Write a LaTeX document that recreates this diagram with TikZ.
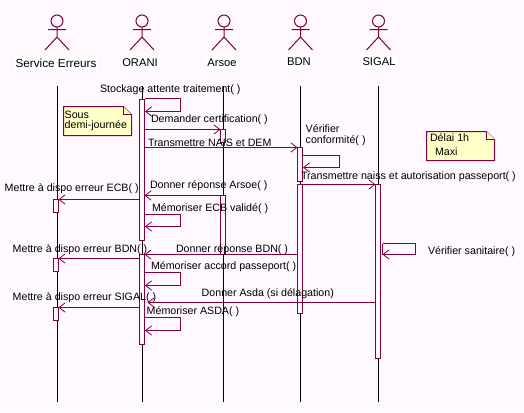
\documentclass[tikz,border=0pt]{standalone}
\usepackage{fontspec}
\setmainfont{Liberation Sans}
\usetikzlibrary{arrows.meta,shapes.misc}
\definecolor{bgc}{RGB}{255,248,255}
\definecolor{umlc}{RGB}{128,0,64}
\definecolor{notec}{RGB}{255,255,200}
\tikzset{
  x=0.75pt,y=-0.75pt,
  lbl/.style={inner sep=0pt,outer sep=0pt,anchor=west,font=\fontsize{8pt}{10pt}\selectfont,text=black},
  actlbl/.style={lbl,anchor=center,font=\fontsize{8.4pt}{10pt}\selectfont,fill=white,inner xsep=1.5pt,inner ysep=2pt},
  lifeline/.style={draw=black,line width=0.75pt},
  actbox/.style={draw=umlc,fill=bgc,line width=0.75pt,rectangle,inner sep=0pt,outer sep=0pt,minimum width=3.75pt,anchor=north},
  msg/.style={draw=umlc,line width=0.75pt,-{Straight Barb[length=4.5pt,width=7pt,line width=0.6pt]}},
  stick/.style={draw=umlc,line width=0.75pt},
  head/.style={circle,draw=umlc,line width=0.75pt,minimum size=9pt,inner sep=0pt,outer sep=0pt},
  notebox/.style={draw=umlc,fill=notec,line width=0.75pt},
}
\newcommand{\actor}[3]{% name, x, label-x
  \node[head] (#1h) at (#2,21) {};
  \coordinate (#1n) at (#2,37);
  \coordinate (#1al) at ({#2-9},29.5);
  \coordinate (#1ar) at ({#2+9},29.5);
  \coordinate (#1ll) at ({#2-12},50);
  \coordinate (#1lr) at ({#2+12},50);
  \draw[stick] (#1h.south) -- (#1n) (#1al) -- (#1ar) (#1ll) -- (#1n) -- (#1lr);
}
\newcommand{\activ}[4]{% name, x, y0, y1
  \node[actbox,minimum height={(#4-#3)*0.75pt}] (#1) at (#2,#3) {};
}
\newcommand{\selfmsg}[5]{% name, xstart, xfar, ytop, ybottom
  \coordinate (#1a) at (#2,#4);
  \coordinate (#1b) at (#3,#4);
  \coordinate (#1c) at (#3,#5);
  \coordinate (#1d) at (#2,#5);
  \draw[msg] (#1a) -- (#1b) -- (#1c) -- (#1d);
}
\newcommand{\note}[5]{% name, x0, y0, x1, y1
  \coordinate (#1a) at (#2,#3);
  \coordinate (#1b) at ({#4-8},#3);
  \coordinate (#1c) at (#4,{#3+8});
  \coordinate (#1d) at (#4,#5);
  \coordinate (#1e) at (#2,#5);
  \coordinate (#1f) at ({#4-8},{#3+8});
  \draw[notebox] (#1a) -- (#1b) -- (#1c) -- (#1d) -- (#1e) -- cycle;
  \draw[notebox] (#1b) -- (#1f) -- (#1c);
}
\begin{document}
\begin{tikzpicture}
\useasboundingbox[fill=bgc] (0,0) rectangle (524,412);

% actors
\actor{se}{57}{56}
\actor{or}{142}{140}
\actor{ar}{224}{222}
\actor{bd}{300.5}{299}
\actor{si}{378.5}{379}
\node[actlbl,font=\fontsize{8.8pt}{10pt}\selectfont] (selab) at (56,63) {Service Erreurs};
\node[actlbl] (orlab) at (140,63) {ORANI};
\node[actlbl] (arlab) at (222,63) {Arsoe};
\node[actlbl] (bdlab) at (299,62) {BDN};
\node[actlbl] (silab) at (379,62) {SIGAL};

% lifelines
\foreach \n/\x in {se/57.5,or/142.5,ar/223.5,bd/300.5,si/378.5}{
  \coordinate (\n top) at (\x,86);
  \coordinate (\n bot) at (\x,401.5);
  \draw[lifeline] (\n top) -- (\n bot);
}

% activations
\activ{or1}{142}{99.5}{240.5}
\activ{or2}{142}{254.5}{344.5}
\activ{ar1}{223}{129.5}{142.5}
\activ{ar2}{223}{195.5}{254.5}
\activ{bd1}{300}{147.5}{181.5}
\activ{bd2}{300}{184.5}{313.5}
\activ{si1}{378}{184.5}{358.5}
\activ{se1}{56}{199.5}{212.5}
\activ{se2}{56}{258.5}{271.5}
\activ{se3}{56}{307.5}{320.5}

% messages
\selfmsg{s1}{145}{180.5}{98.5}{111.5}
\draw[msg] (or1.east |- 0,129.5) -- (ar1.north west);
\draw[msg] (or1.east |- 0,147.5) -- (bd1.north west);
\selfmsg{s2}{303}{339.5}{155.5}{167.5}
\draw[msg] (bd2.north east) -- (si1.north west);
\draw[msg] (ar2.north west) -- (or1.east |- ar2.north west);
\draw[msg] (or1.west |- 0,199.5) -- (se1.north east);
\selfmsg{s3}{145}{180.5}{214.5}{226.5}
\draw[msg] (bd2.west |- 0,254.5) -- (or2.north east);
\draw[msg] (or2.west |- 0,258.5) -- (se2.north east);
\selfmsg{s4}{145}{180.5}{272.5}{285.5}
\draw[msg] (si1.west |- 0,302.5) -- (147.5,302.5);
\draw[msg] (or2.west |- 0,307.5) -- (se3.north east);
\selfmsg{s5}{145}{180.5}{317.5}{330.5}
\selfmsg{s6}{382.5}{415.5}{243.5}{254.5}
\draw[stick] (s6a) -- (s6d);

% notes
\note{n1}{63.5}{106.5}{131.5}{135.5}
\note{n2}{426.5}{131.5}{494.5}{160.5}

% labels
\node[lbl] (l1) at (100,90) {Stockage attente traitement( )};
\node[lbl] (l2) at (151,120) {Demander certification( )};
\node[lbl] (l3) at (148,143) {Transmettre NAIS et DEM};
\node[lbl] (l4) at (305.7,129) {Vérifier};
\node[lbl] (l5) at (305.7,141) {conformité( )};
\node[lbl] (l6) at (301,177) {Transmettre naiss et autorisation passeport( )};
\node[lbl] (l7) at (430,138) {Délai 1h};
\node[lbl] (l8) at (435,152) {Maxi};
\node[lbl] (l9) at (64.7,115) {Sous};
\node[lbl] (l10) at (64.7,126) {demi-journée};
\node[lbl] (l11) at (4.7,189) {Mettre à dispo erreur ECB( )};
\node[lbl] (l12) at (150,186) {Donner réponse Arsoe( )};
\node[lbl] (l13) at (152,209) {Mémoriser ECB validé( )};
\node[lbl] (l14) at (12.7,250) {Mettre à dispo erreur BDN( )};
\node[lbl] (l15) at (176,250) {Donner réponse BDN( )};
\node[lbl] (l16) at (151,267) {Mémoriser accord passeport( )};
\node[lbl] (l17) at (12.7,298) {Mettre à dispo erreur SIGAL( )};
\node[lbl] (l18) at (201.7,294) {Donner Asda (si délagation)};
\node[lbl] (l19) at (146.7,312) {Mémoriser ASDA( )};
\node[lbl] (l20) at (428,252) {Vérifier sanitaire( )};
\end{tikzpicture}
\end{document}
